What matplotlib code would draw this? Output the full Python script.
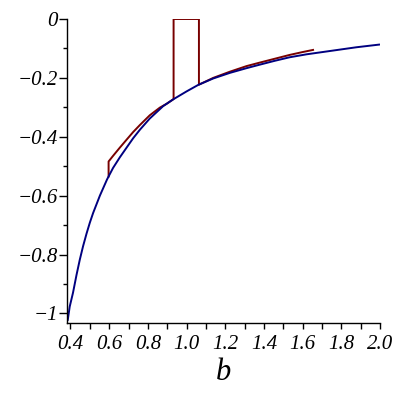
import matplotlib
matplotlib.use("Agg")
import matplotlib.pyplot as plt
from matplotlib.ticker import MultipleLocator

# blue curve
b_blue = [0.386, 0.396, 0.413, 0.431, 0.448, 0.465, 0.483, 0.500, 0.517, 0.552,
          0.589, 0.620, 0.655, 0.690, 0.724, 0.759, 0.810, 0.879, 0.931, 1.000,
          1.060, 1.138, 1.224, 1.310, 1.379, 1.456, 1.533, 1.620, 1.706, 1.792,
          1.878, 1.995]
y_blue = [-1.022, -0.977, -0.930, -0.870, -0.818, -0.772, -0.729, -0.692, -0.659, -0.600,
          -0.545, -0.506, -0.470, -0.437, -0.405, -0.376, -0.338, -0.296, -0.273, -0.246,
          -0.224, -0.202, -0.183, -0.167, -0.155, -0.142, -0.130, -0.120, -0.112, -0.104,
          -0.096, -0.087]

# red curve (with the jump at 0.6 and the box around 1.0)
b_red = [0.597, 0.597, 0.620, 0.655, 0.690, 0.724, 0.759, 0.810, 0.862, 0.897,
         0.933, 0.933, 1.064, 1.064, 1.138, 1.224, 1.310, 1.379, 1.456, 1.533,
         1.602, 1.654]
y_red = [-0.535, -0.484, -0.465, -0.437, -0.410, -0.384, -0.360, -0.327, -0.301, -0.288,
         -0.272, 0.0, 0.0, -0.223, -0.200, -0.179, -0.160, -0.148, -0.135, -0.122,
         -0.112, -0.105]

xticks = [0.4, 0.6, 0.8, 1.0, 1.2, 1.4, 1.6, 1.8, 2.0]
xlabels = ["0.4", "0.6", "0.8", "1.0", "1.2", "1.4", "1.6", "1.8", "2.0"]
yticks = [0, -0.2, -0.4, -0.6, -0.8, -1]
ylabels = ["0", "\u22120.2", "\u22120.4", "\u22120.6", "\u22120.8", "\u22121"]

fig = plt.figure(figsize=(4, 4), dpi=100)
ax = fig.add_axes([0.1675, 0.193, 0.7825, 0.7595])

ax.plot(b_red, y_red, color="#780000", lw=1.4)
ax.plot(b_blue, y_blue, color="#000080", lw=1.4)

ax.set_xlim(0.382, 2.0)
ax.set_ylim(-1.032, 0.0)

for s in ["top", "right"]:
    ax.spines[s].set_visible(False)
for s in ["left", "bottom"]:
    ax.spines[s].set_linewidth(1.0)

ax.set_xticks(xticks)
ax.set_xticklabels(xlabels)
ax.set_yticks(yticks)
ax.set_yticklabels(ylabels)
ax.xaxis.set_minor_locator(MultipleLocator(0.1))
ax.yaxis.set_minor_locator(MultipleLocator(0.1))
ax.tick_params(which="major", axis="y", length=5.5, width=1, pad=1)
ax.tick_params(which="minor", axis="y", length=3, width=1)
ax.tick_params(which="both", axis="x", length=4, width=1, pad=5)

for lab in ax.get_xticklabels() + ax.get_yticklabels():
    lab.set_family("Liberation Serif")
    lab.set_style("italic")
    lab.set_fontsize(15)

ax.set_xlabel("b", family="Liberation Serif", style="italic", fontsize=22, labelpad=3)

fig.savefig("out.png", dpi=100)
